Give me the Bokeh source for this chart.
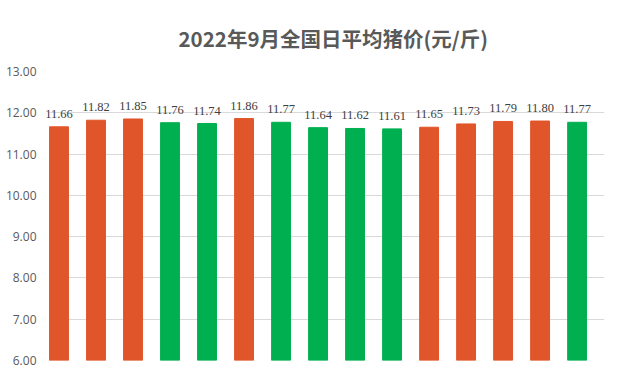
from bokeh.plotting import figure
from bokeh.models import (ColumnDataSource, LabelSet, NumeralTickFormatter, FixedTicker,
                          Range1d, BoxAnnotation)
from bokeh.embed import file_html
from bokeh.resources import INLINE

days = ["9月1日", "9月2日", "9月3日", "9月4日", "9月5日", "9月6日", "9月7日", "9月8日",
        "9月9日", "9月10日", "9月11日", "9月12日", "9月13日", "9月14日", "9月15日"]
prices = [11.66, 11.82, 11.85, 11.76, 11.74, 11.86, 11.77, 11.64, 11.62, 11.61,
          11.65, 11.73, 11.79, 11.80, 11.77]
y_ticks = [6, 7, 8, 9, 10, 11, 12, 13]

UP = "#E05529"
DOWN = "#00B050"
colors = [UP if i == 0 or prices[i] >= prices[i - 1] else DOWN for i in range(len(prices))]

BAR_W = 0.51
src = ColumnDataSource(dict(x=list(range(len(days))), day=days, price=prices, color=colors,
                            label=[f"{v:.2f}" for v in prices]))

p = figure(width=618, height=375, x_range=Range1d(-0.5, len(days) - 0.26),
           y_range=Range1d(6, 13),
           output_backend="svg", toolbar_location=None,
           min_border_left=40, min_border_right=14, min_border_top=71, min_border_bottom=15)
p.outline_line_color = None
p.background_fill_color = "white"

# mask gridlines to the left of the first bar (plot area starts at the first bar)
mask = BoxAnnotation(right=-BAR_W / 2, fill_color="white", fill_alpha=1.0,
                     line_alpha=0, level="underlay")
p.add_layout(mask)

p.vbar(x="x", top="price", bottom=6, width=BAR_W, color="color", source=src)

labels = LabelSet(x="x", y="price", text="label", source=src,
                  text_align="center", text_baseline="alphabetic", y_offset=9,
                  text_font_size="12.5px", text_color="#404040", text_font="Open Sans")
p.add_layout(labels)

p.xaxis.visible = False
p.xgrid.visible = False
p.ygrid.grid_line_color = "#D9D9D9"
p.ygrid.grid_line_width = 1
p.yaxis.ticker = FixedTicker(ticks=y_ticks)
p.yaxis.formatter = NumeralTickFormatter(format="0.00")
p.yaxis.axis_line_color = None
p.yaxis.major_tick_line_color = None
p.yaxis.minor_tick_line_color = None
p.yaxis.major_tick_out = 0
p.yaxis.major_tick_in = 0
p.yaxis.minor_tick_out = 0
p.yaxis.minor_tick_in = 0
p.yaxis.major_label_text_color = "#595959"
p.yaxis.major_label_text_font = "Open Sans"
p.yaxis.major_label_text_font_size = "12px"
p.yaxis.major_label_standoff = 4

p.title.text = "2022年9月全国日平均猪价(元/斤)"
p.title.align = "left"
p.title.text_font = "Noto Sans CJK SC"
p.title.text_font_size = "20.5px"
p.title.text_font_style = "bold"
p.title.text_color = "#595959"
p.title.offset = 138
p.title.standoff = 38

open("out.html", "w").write(file_html(p, INLINE))
